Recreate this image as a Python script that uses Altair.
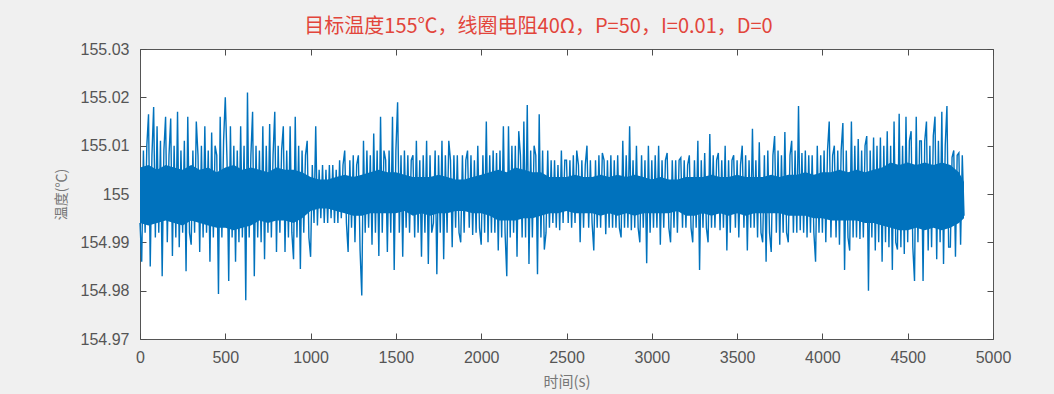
import altair as alt
import pandas as pd

# deviation from 155 ℃ in units of 0.001 ℃, one value every 10 s (rows of 100 s)
dev_rows = [
    [-6, -14, 9, -8, 10, 16.5, -15, 8, 18, -9],
    [14, -8, 11, -17, 9, 16, -10, 8, 15.6, -12.8],
    [10, -9, 17, -11, 9, -8, 11, -16, 16, -8],
    [-10.5, 9, -8, 15, 8, -12, 10, -9, 14, -8],
    [9, -14, 12.7, -9, 10, 8, -20.7, 16, -9, 11],
    [20, 7, -18, 14, -9, 10, -14, 9, -10, 14],
    [-9, 10, -22, 21, -9, 8, 17, -17, 10, -9],
    [9, -10, 14, -13.5, 10, -8, 14.5, -9, 8, 17],
    [-12, 10, -8, 9, 14, -12, 9, -9, 14, -8],
    [-13.5, 16, -9, 10, -15.5, 9, -8, 8, 11, -9],
    [-13, 6, -6, 14, -6.5, 5, -5, 6, -6, 5],
    [-6, 6, -5, 6, -6, 5, -6, 7, -5, 6],
    [9, -6, -12, 7, -7, 8, -10, 6, 8, -11.7],
    [-21, 11, -8, 9, -7, 8, -10.5, 12.5, -8, 9],
    [-12.8, 16, -8, 9, 7, -12, 9, -8, 16, -15.7],
    [9, 19, -8, 8, -13, 9, -7, 8, -8, 7],
    [8, -9, 11, -8, 7, -13, 8, -8, 11, -14.5],
    [8, -8, -6, 9, -16.6, 8, -8, 11, -13.5, 8],
    [-8, 11, 7, -11, 8, -7, 8, -8, -10, 8],
    [-8, 7, 9, -7, 8, -8.5, 7, -8, 10, -7],
    [-10.5, 8, -8, 15, -10, 8, -8, 9, -8, 8.5],
    [-11.7, 9, -9, 14, -8, -17, 14, -9, 10, -8],
    [10, -13, 13, 8, -9, 15, -9, 18.4, -14.5, 9],
    [-9, 10, 8, -16.6, 16.5, -9, 9, -11.5, -8, 9],
    [-7, 7, -6, 7, -7, 6, -7.5, 9, -6, 7],
    [7, -6, 7, -7, 8, -6, 9, 6, -10, 7],
    [-7, 6, 10, -7, 7, -6, -11.7, 7, -7, 8],
    [-7, 8.5, 7, -8.3, 7, -7, 8, -7, 7, -7],
    [8, -7, -9, 11, -7, 8, -7, 14, -7.5, 7],
    [-7, 10, -7, -10, 8, -7, 7, -14.3, 10, -8],
    [7, -7, 8, -7, 10, -10.5, 7, -7, 7, 8.5],
    [-7, -10, 7, -7, 7, -8, 7, 7.5, -7, 7],
    [-7, 6, 8, -7, -10, 7, -7, 11, -15.7, 7],
    [-7, 8.5, -7, -10, 12.4, -7, 8, -7, 7, 8.5],
    [-7.5, 7, -7, 10, -11.7, 7, -8, 7, 8, -7],
    [7, -9, 6, 10, -7, 8, -11.7, 7, -7, 13.5],
    [-7, 7, -9, 10.7, -8, -10, 8, -14, 9, -8],
    [-12, 8, 12, -8, 9, -10.5, 8, -8, 12.8, -8],
    [-10, 8, 11, -8, 9, -8, 18.2, -7.5, 8.5, -8],
    [9, -9, 8, -8, 8, -8, -14, 10, -8, 8],
    [-8, 9, -10, 9, 15, -9, 8, 10, -9, 9],
    [-10.5, 9, 14.7, -15.7, 9, -9, -11.7, 15, -9, 10],
    [-9, 11.4, -9.3, 9, -9, 10, 12, -20, 9, -9],
    [11.7, -11.7, 10, -10, 11.7, -14, 10, -10, 13, -11],
    [10, -15.7, 15, -10, -11.5, 16.6, -11, 10, -12.4, 16],
    [-10, 11, 13, -11, -18, 16, -10, 11, 11, -18],
    [11, 15, -11.7, 10, -11, 12, 16, -13.5, 11, -10],
    [17, -14.5, 10, 18.2, -11, -11, 7.6, 9, -13, 8],
    [8.5, -10.5, 8, -4.5],
]

# solid core of the trace (upper / lower edge, 0.001 ℃), read every 50 s, last at 4830 s
core_hi = [
    5.5, 6, 5, 6, 5.5, 5, 6, 5, 5.5, 4.5, 5.5, 6, 5, 5.5, 5, 4.5, 5.5, 5, 5, 4.5,
    3.5, 3, 3, 3.5, 4, 3.5, 4, 4.5, 5, 4.5, 4.5, 4, 3.5, 3.5, 3.5, 4, 3.5, 3, 3, 3.5,
    4, 4.5, 5, 4.5, 5.5, 5, 4.5, 4.5, 3.5, 3.5, 3.5, 4, 3.5, 3.5, 4, 3.5, 4, 3.5, 4, 3.5,
    3, 3.5, 3, 3, 3.5, 3.5, 3.5, 4, 3.5, 3.5, 4, 3.5, 3.5, 3.5, 4, 3.5, 4, 4, 4.5, 4,
    4.5, 4.5, 5, 4.5, 5, 4.5, 5, 5.5, 6.5, 6, 6.5, 6, 6.5, 6, 6.5, 6, 4.5, 2.5,
]
core_lo = [
    -6, -6.5, -6, -5.5, -6, -6.5, -5.5, -6, -6.5, -7, -7, -7.5, -7, -6.5, -5.5, -6, -5.5, -5.5, -6, -5,
    -3.5, -3, -3, -3.5, -4, -4.5, -4.5, -4, -4, -4, -4, -3.5, -4.5, -4, -4.5, -4, -4, -3.5, -3.5, -4,
    -4, -4.5, -5.5, -5.5, -5.5, -5, -5, -4.5, -4, -4, -3.5, -4, -4, -4, -4.5, -4, -4.5, -4, -4.5, -4,
    -4, -4, -4, -3.5, -4.5, -4.5, -4, -4.5, -4, -4.5, -4, -4.5, -4, -4, -4, -4, -4.5, -4.5, -4.5, -5,
    -5, -5.5, -5.5, -5.5, -5.5, -6, -6, -6.5, -7, -7.5, -7.5, -7, -7.5, -7, -7.5, -7, -6, -5,
]
core_t = list(range(0, 4850, 50)) + [4830]

x_ticks = [0, 500, 1000, 1500, 2000, 2500, 3000, 3500, 4000, 4500, 5000]
y_ticks = [154.97, 154.98, 154.99, 155.0, 155.01, 155.02, 155.03]

times, temps = [], []
for r, row in enumerate(dev_rows):
    for k, d in enumerate(row):
        times.append(r * 100 + k * 10)
        temps.append(round(155 + d / 1000.0, 5))
df = pd.DataFrame({"t": times, "temp": temps})

core = pd.DataFrame({
    "t": core_t,
    "hi": [round(155 + v / 1000.0, 5) for v in core_hi],
    "lo": [round(155 + v / 1000.0, 5) for v in core_lo],
})

W, H = 853, 290
num_font = "Liberation Sans"
cjk_font = "Noto Sans CJK SC"
tick_col = "#4d4d4d"
blue = "#0072BD"

xs = alt.Scale(domain=[0, 5000], nice=False, zero=False)
ys = alt.Scale(domain=[154.97, 155.03], nice=False, zero=False)

main = alt.Chart(df).mark_line(color=blue, strokeWidth=1.4).encode(
    x=alt.X("t:Q", scale=xs, axis=alt.Axis(
        orient="bottom", values=x_ticks, format="d", ticks=False, domain=False,
        grid=False, labelFont=num_font, labelFontSize=16, labelColor="#555555",
        labelPadding=10, labelFlush=False,
        title="时间(s)", titleFont=cjk_font, titleFontSize=15, titleFontWeight="normal",
        titleColor="#777777", titlePadding=9)),
    y=alt.Y("temp:Q", scale=ys, axis=alt.Axis(
        orient="left", values=y_ticks, format=".2~f", ticks=False, domain=False,
        grid=False, labelFont=num_font, labelFontSize=16, labelColor="#555555",
        labelPadding=11, labelFlush=False,
        title="温度(℃)", titleFont=cjk_font, titleFontSize=14, titleFontWeight="normal",
        titleColor="#777777", titlePadding=12)),
)

band = alt.Chart(core).mark_area(color=blue, opacity=1).encode(
    x=alt.X("t:Q", scale=xs, axis=None),
    y=alt.Y("lo:Q", scale=ys, axis=None),
    y2="hi:Q",
)

tick_axis = dict(labels=False, ticks=True, tickSize=6, tickColor=tick_col, tickWidth=1,
                 domain=False, grid=False, title=None)

ticks_a = alt.Chart(df).mark_line(strokeOpacity=0).encode(
    x=alt.X("t:Q", scale=xs, axis=alt.Axis(orient="top", offset=-H, values=x_ticks, **tick_axis)),
    y=alt.Y("temp:Q", scale=ys, axis=alt.Axis(orient="right", offset=-W, values=y_ticks, **tick_axis)),
)
ticks_b = alt.Chart(df).mark_line(strokeOpacity=0).encode(
    x=alt.X("t:Q", scale=xs, axis=alt.Axis(orient="bottom", offset=-H, values=x_ticks, **tick_axis)),
    y=alt.Y("temp:Q", scale=ys, axis=alt.Axis(orient="left", offset=-W, values=y_ticks, **tick_axis)),
)

chart = alt.layer(main, band, ticks_a, ticks_b).resolve_axis(
    x="independent", y="independent"
).properties(
    width=W, height=H,
    title=alt.TitleParams(
        "目标温度155℃，线圈电阻40Ω，P=50，I=0.01，D=0",
        font=cjk_font, fontSize=20, fontWeight="normal", color="#e2453b",
        anchor="middle", offset=4, dx=-28,
    ),
    background="#f0f0f0",
    autosize=alt.AutoSizeParams(type="none"),
    padding={"left": 140, "top": 49, "right": 61, "bottom": 55},
).configure_view(
    stroke="#555555", strokeWidth=1, fill="white"
)

chart.save("out.html", embed_options={"renderer": "svg", "actions": False})
